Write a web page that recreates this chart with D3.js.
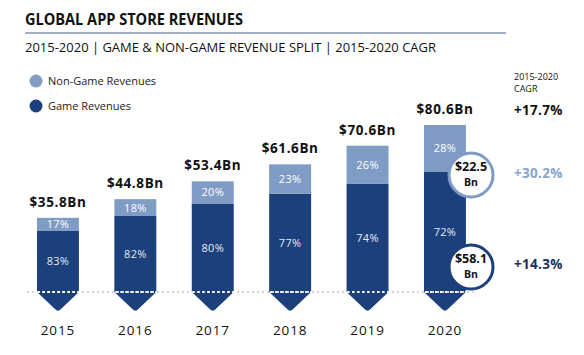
<!DOCTYPE html>
<html><head><meta charset="utf-8">
<script src="https://cdn.jsdelivr.net/npm/d3@7"></script>
<style>
html,body{margin:0;padding:0;background:#fff;}
svg{display:block;font-family:"Open Sans",sans-serif;}
</style></head>
<body><svg id="c" width="584" height="355"></svg>
<script>
const years = ["2015","2016","2017","2018","2019","2020"];
const totals = [35.8, 44.8, 53.4, 61.6, 70.6, 80.6];
const totalLabels = ["$35.8Bn","$44.8Bn","$53.4Bn","$61.6Bn","$70.6Bn","$80.6Bn"];
const nonGameValues = [6.1, 8.1, 10.7, 14.2, 18.4, 22.5];
const gameValues = [29.7, 36.7, 42.7, 47.4, 52.2, 58.1];
const nonGamePct = ["17%","18%","20%","23%","26%","28%"];
const gamePct = ["83%","82%","80%","77%","74%","72%"];
const cagrLabels = ["+17.7%","+30.2%","+14.3%"];
const calloutLabels = ["$22.5","$58.1"];

const DARK = "#1c407c", LIGHT = "#7f9cc5";
const svg = d3.select("#c");

// Title
svg.append("text").attr("x",25).attr("y",25).attr("font-size",16).attr("font-weight",700)
  .attr("fill","#111").attr("textLength",218).attr("lengthAdjust","spacingAndGlyphs")
  .text("GLOBAL APP STORE REVENUES");
svg.append("line").attr("x1",25).attr("x2",506).attr("y1",33).attr("y2",33)
  .attr("stroke","#8394b8").attr("stroke-width",1.5);
svg.append("text").attr("x",25).attr("y",52).attr("font-size",13.5).attr("fill","#111")
  .attr("textLength",411).attr("lengthAdjust","spacingAndGlyphs")
  .text("2015-2020 | GAME & NON-GAME REVENUE SPLIT | 2015-2020 CAGR");

// Legend
const legend = [["Non-Game Revenues", LIGHT, 81],["Game Revenues", DARK, 106]];
legend.forEach(([t,c,y])=>{
  svg.append("circle").attr("cx",36).attr("cy",y).attr("r",6.5).attr("fill",c);
  svg.append("text").attr("x",48).attr("y",y+4).attr("font-size",11).attr("fill","#222").text(t);
});

// Scales
const x = d3.scaleBand().domain(years).range([19.25, 483.65]).paddingInner(0.458).paddingOuter(0.229);
const y = d3.scaleLinear().domain([0, 80.6]).range([292, 125]);
const bw = x.bandwidth();

// Bars
years.forEach((yr,i)=>{
  const x0 = x(yr), x1 = x0 + bw, cx = x0 + bw/2;
  const yb = y(0), yg = y(gameValues[i]), yt = y(totals[i]);
  const tip = 20, r = 3;
  const p = d3.path();
  p.moveTo(x0, yg); p.lineTo(x1, yg); p.lineTo(x1, yb);
  p.lineTo(cx + r, yb + tip - r);
  p.quadraticCurveTo(cx, yb + tip + 0.5, cx - r, yb + tip - r);
  p.lineTo(x0, yb); p.closePath();
  svg.append("path").attr("d", p.toString()).attr("fill", DARK);
  svg.append("rect").attr("x",x0).attr("y",yt).attr("width",bw).attr("height",yg-yt).attr("fill",LIGHT);
  svg.append("text").attr("x",cx).attr("y",(yt+yg)/2+4).attr("text-anchor","middle")
    .attr("font-size",11).attr("fill","#fff").attr("letter-spacing",0.3).text(nonGamePct[i]);
  svg.append("text").attr("x",cx).attr("y",(yg+yb)/2+4).attr("text-anchor","middle")
    .attr("font-size",11).attr("fill","#e4eaf4").attr("letter-spacing",0.3).text(gamePct[i]);
  svg.append("text").attr("x",cx).attr("y",yt-11).attr("text-anchor","middle")
    .attr("font-size",13.5).attr("font-weight",700).attr("fill","#111").attr("letter-spacing",0.6)
    .text(totalLabels[i]);
  svg.append("text").attr("x",cx).attr("y",335).attr("text-anchor","middle")
    .attr("font-size",13.5).attr("fill","#111").attr("letter-spacing",0.9).text(yr);
});

// dotted baseline
svg.append("line").attr("x1",27).attr("x2",475).attr("y1",y(0)).attr("y2",y(0))
  .attr("stroke","#d4d4d4").attr("stroke-width",2).attr("stroke-dasharray","2,3");
years.forEach(yr=>{
  svg.append("line").attr("x1",x(yr)+1).attr("x2",x(yr)+bw).attr("y1",y(0)).attr("y2",y(0))
    .attr("stroke","#fff").attr("stroke-width",2).attr("stroke-dasharray","2,3");
});

// callout circles for 2020
const ccx = 471;
const callouts = [
  {cy: 175, stroke: LIGHT, label: calloutLabels[0]},
  {cy: 267, stroke: DARK, label: calloutLabels[1]}
];
callouts.forEach(c=>{
  svg.append("circle").attr("cx",ccx).attr("cy",c.cy).attr("r",22).attr("fill","#fff")
    .attr("stroke",c.stroke).attr("stroke-width",3);
  svg.append("text").attr("x",ccx).attr("y",c.cy-4).attr("text-anchor","middle")
    .attr("font-size",12.5).attr("font-weight",700).attr("fill","#111").text(c.label);
  svg.append("text").attr("x",ccx).attr("y",c.cy+10.5).attr("text-anchor","middle")
    .attr("font-size",10.5).attr("font-weight",700).attr("fill","#111").text("Bn");
});

// CAGR column
svg.append("text").attr("x",514).attr("y",80).attr("font-size",9).attr("fill","#111").text("2015-2020");
svg.append("text").attr("x",514).attr("y",92).attr("font-size",9).attr("fill","#111").text("CAGR");
const cagrPos = [[115,"#111"],[178,"#8aa3cc"],[269,"#1c2f5c"]];
cagrLabels.forEach((t,i)=>{
  svg.append("text").attr("x",514).attr("y",cagrPos[i][0]).attr("font-size",13.5)
    .attr("font-weight",700).attr("fill",cagrPos[i][1]).attr("letter-spacing",0.3).text(t);
});
</script></body></html>
